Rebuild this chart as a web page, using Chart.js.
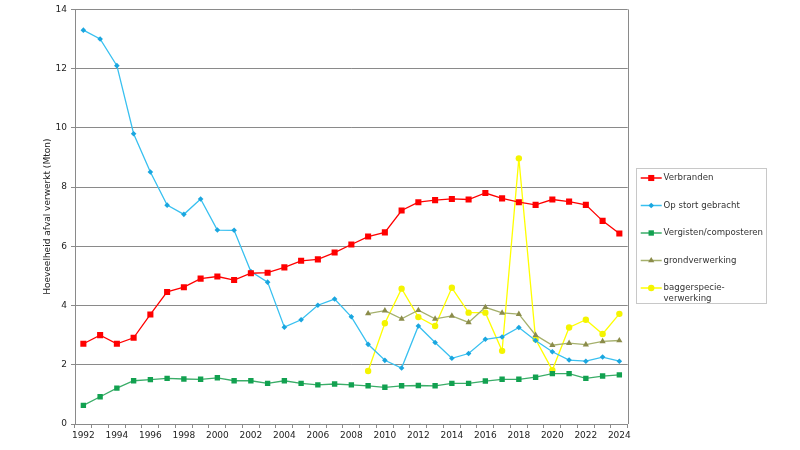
<!DOCTYPE html>
<html>
<head>
<meta charset="utf-8">
<script src="https://cdn.jsdelivr.net/npm/chart.js@4/dist/chart.umd.min.js"></script>
<style>
  html, body { margin: 0; padding: 0; background: #fff; }
  #wrap { width: 800px; height: 450px; }
</style>
</head>
<body>
<div id="wrap"><canvas id="graphAfval"></canvas></div>
<script>
// jaren en reeksen (Mton)
const jaren = ['1992','1993','1994','1995','1996','1997','1998','1999','2000','2001','2002',
  '2003','2004','2005','2006','2007','2008','2009','2010','2011','2012','2013','2014',
  '2015','2016','2017','2018','2019','2020','2021','2022','2023','2024'];

const verbranden = [2.71, 3.00, 2.71, 2.91, 3.70, 4.46, 4.62, 4.91, 4.98, 4.86, 5.09,
  5.11, 5.29, 5.51, 5.56, 5.79, 6.06, 6.33, 6.47, 7.21, 7.49, 7.56, 7.60,
  7.58, 7.80, 7.62, 7.49, 7.40, 7.58, 7.51, 7.40, 6.86, 6.43];

const opStort = [13.30, 13.00, 12.10, 9.80, 8.51, 7.39, 7.08, 7.60, 6.55, 6.54, 5.15,
  4.79, 3.27, 3.52, 4.01, 4.22, 3.62, 2.69, 2.15, 1.89, 3.31, 2.75, 2.22,
  2.38, 2.86, 2.94, 3.26, 2.82, 2.44, 2.16, 2.12, 2.26, 2.12];

const vergisten = [0.63, 0.92, 1.21, 1.46, 1.50, 1.54, 1.52, 1.51, 1.56, 1.46, 1.46,
  1.37, 1.46, 1.37, 1.32, 1.35, 1.32, 1.29, 1.24, 1.29, 1.30, 1.29, 1.37,
  1.37, 1.45, 1.51, 1.51, 1.58, 1.70, 1.70, 1.54, 1.62, 1.66];

const grondverwerking = [null, null, null, null, null, null, null, null, null, null, null,
  null, null, null, null, null, null, 3.73, 3.83, 3.55, 3.84, 3.55, 3.65,
  3.43, 3.94, 3.75, 3.71, 3.00, 2.66, 2.73, 2.68, 2.79, 2.82];

const baggerspecie = [null, null, null, null, null, null, null, null, null, null, null,
  null, null, null, null, null, null, 1.79, 3.40, 4.57, 3.61, 3.31, 4.60,
  3.76, 3.76, 2.47, 8.97, 2.86, 1.82, 3.26, 3.52, 3.04, 3.72];

const legendaTeksten = ['Verbranden', 'Op stort gebracht', 'Vergisten/composteren',
  'grondverwerking', ['baggerspecie-', 'verwerking']];

const grijs = '#8a8a8a';

function reeks(label, data, lijn, punt, vorm, straal) {
  return {
    label: label,
    data: data,
    borderColor: lijn,
    borderWidth: 1.3,
    backgroundColor: punt,
    pointBackgroundColor: punt,
    pointBorderColor: punt,
    pointBorderWidth: 0,
    pointStyle: vorm,
    pointRadius: straal,
    pointHoverRadius: straal,
    tension: 0
  };
}

// kleine tekening van een markering voor de legenda
function tekenMarker(ctx, vorm, x, y, r, kleur) {
  ctx.fillStyle = kleur;
  ctx.beginPath();
  if (vorm === 'rect') {
    const s = r * Math.SQRT1_2;
    ctx.rect(x - s, y - s, 2 * s, 2 * s);
  } else if (vorm === 'rectRot') {
    ctx.moveTo(x, y - r); ctx.lineTo(x + r, y); ctx.lineTo(x, y + r); ctx.lineTo(x - r, y);
    ctx.closePath();
  } else if (vorm === 'triangle') {
    ctx.moveTo(x, y - r);
    ctx.lineTo(x + r * 0.866, y + r * 0.5);
    ctx.lineTo(x - r * 0.866, y + r * 0.5);
    ctx.closePath();
  } else {
    ctx.arc(x, y, r, 0, Math.PI * 2);
  }
  ctx.fill();
}

const legendaKader = {
  id: 'legendaKader',
  afterDraw(chart) {
    const legend = chart.legend;
    if (!legend || !legend.legendHitBoxes.length) return;
    const hb = legend.legendHitBoxes;
    const ctx = chart.ctx;
    ctx.save();
    // lijntje + markering per item
    hb.forEach((h, i) => {
      const ds = chart.data.datasets[i];
      const y = h.top + 9;
      ctx.strokeStyle = ds.borderColor;
      ctx.lineWidth = 1.5;
      ctx.beginPath();
      ctx.moveTo(h.left + 3.5, y);
      ctx.lineTo(h.left + 24.5, y);
      ctx.stroke();
      tekenMarker(ctx, ds.pointStyle, h.left + 14, y, ds.pointRadius, ds.pointBackgroundColor);
    });
    // kader rond de legenda
    let rechts = 0;
    hb.forEach(h => { rechts = Math.max(rechts, h.left + h.width); });
    const laatste = hb[hb.length - 1];
    const boven = Math.round(hb[0].top) - 0.5;
    const onder = Math.round(laatste.top + laatste.height) + 3.5;
    ctx.strokeStyle = '#c8c8c8';
    ctx.lineWidth = 1;
    ctx.strokeRect(Math.round(hb[0].left) - 0.5, boven,
      Math.round(rechts - hb[0].left) + 4, onder - boven);
    // rechterrand van het tekengebied
    const ca = chart.chartArea;
    ctx.strokeStyle = grijs;
    ctx.beginPath();
    ctx.moveTo(Math.round(ca.right) + 0.5, ca.top);
    ctx.lineTo(Math.round(ca.right) + 0.5, ca.bottom);
    ctx.stroke();
    ctx.restore();
  }
};

const graphAfval = document.querySelector('#graphAfval');

new Chart(graphAfval, {
  type: 'line',
  data: {
    labels: jaren,
    datasets: [
      reeks('Verbranden', verbranden, '#ff0000', '#ff0000', 'rect', 4.3),
      reeks('Op stort gebracht', opStort, '#38c0f0', '#1aa6df', 'rectRot', 2.8),
      reeks('Vergisten/composteren', vergisten, '#3aad68', '#12a150', 'rect', 3.8),
      reeks('grondverwerking', grondverwerking, '#a5b06c', '#8b8c4a', 'triangle', 3.6),
      reeks('baggerspecie-verwerking', baggerspecie, '#ffff00', '#f4f400', 'circle', 3.2)
    ]
  },
  options: {
    responsive: true,
    maintainAspectRatio: false,
    animation: false,
    layout: { padding: { left: 38, right: 27, top: 8, bottom: 6 } },
    plugins: {
      tooltip: { enabled: false },
      legend: {
        position: 'right',
        align: 'start',
        title: { display: true, text: '', font: { size: 10 }, padding: { top: 139.5, bottom: 0 } },
        labels: {
          boxWidth: 22,
          boxHeight: 18,
          padding: 9.5,
          color: '#333',
          font: { family: 'DejaVu Sans', size: 8.6 },
          generateLabels(chart) {
            const items = Chart.defaults.plugins.legend.labels.generateLabels(chart);
            items.forEach(it => {
              it.text = legendaTeksten[it.datasetIndex];
              it.fillStyle = 'rgba(0,0,0,0)';
              it.strokeStyle = 'rgba(0,0,0,0)';
              it.lineWidth = 0;
            });
            return items;
          }
        }
      }
    },
    scales: {
      x: {
        type: 'category',
        offset: true,
        afterFit(scale) { scale.height = 20; },
        grid: { offset: true, drawOnChartArea: false, color: grijs, tickLength: 4 },
        border: { color: grijs },
        ticks: {
          autoSkip: false,
          maxRotation: 0,
          padding: 2,
          color: '#222',
          font: { family: 'DejaVu Sans', size: 9 },
          callback(value, index) { return index % 2 === 0 ? this.getLabelForValue(value) : ''; }
        }
      },
      y: {
        min: 0,
        max: 14,
        afterFit(scale) { scale.width = 37; },
        grid: { color: grijs, tickLength: 4 },
        border: { color: grijs },
        ticks: {
          stepSize: 2,
          padding: 4,
          color: '#222',
          font: { family: 'DejaVu Sans', size: 9 }
        },
        title: {
          display: true,
          text: 'Hoeveelheid afval verwerkt (Mton)',
          color: '#222',
          font: { family: 'DejaVu Sans', size: 9 },
          padding: { top: 4, bottom: 4 }
        }
      }
    }
  },
  plugins: [legendaKader]
});
</script>
</body>
</html>
